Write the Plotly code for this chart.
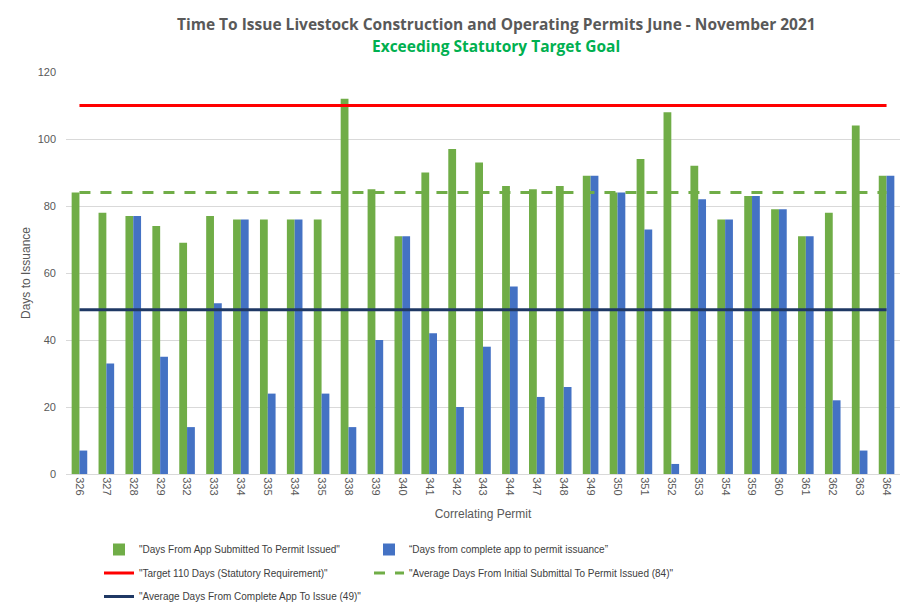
import plotly.graph_objects as go

permits = ["326", "327", "328", "329", "332", "333", "334", "335", "334", "335",
           "338", "339", "340", "341", "342", "343", "344", "347", "348", "349",
           "350", "351", "352", "353", "354", "359", "360", "361", "362", "363", "364"]
days_submitted = [84, 78, 77, 74, 69, 77, 76, 76, 76, 76,
                  112, 85, 71, 90, 97, 93, 86, 85, 86, 89,
                  84, 94, 108, 92, 76, 83, 79, 71, 78, 104, 89]
days_complete = [7, 33, 77, 35, 14, 51, 76, 24, 76, 24,
                 14, 40, 71, 42, 20, 38, 56, 23, 26, 89,
                 84, 73, 3, 82, 76, 83, 79, 71, 22, 7, 89]
target_days = 110
avg_submitted = 84
avg_complete = 49
y_ticks = [0, 20, 40, 60, 80, 100, 120]

idx = list(range(len(permits)))
FONT = "Liberation Sans, Arial, sans-serif"
GRAY = "#595959"

fig = go.Figure()
fig.add_trace(go.Bar(x=idx, y=days_submitted, marker_color="#70AD47", marker_line_width=0,
                     name='"Days From App Submitted To Permit Issued"', legend="legend",
                     legendgroup="a"))
fig.add_trace(go.Bar(x=idx, y=days_complete, marker_color="#4472C4", marker_line_width=0,
                     name='“Days from complete app to permit issuance”', legend="legend2",
                     legendgroup="b"))
fig.add_trace(go.Scatter(x=idx, y=[target_days] * len(idx), mode="lines",
                         line=dict(color="#FF0000", width=3),
                         name='"Target 110 Days (Statutory Requirement)"', legend="legend",
                         legendgroup="c"))
fig.add_trace(go.Scatter(x=idx, y=[avg_submitted] * len(idx), mode="lines",
                         line=dict(color="#70AD47", width=3, dash="11px,10px"),
                         name='"Average Days From Initial Submittal To Permit Issued (84)"',
                         legend="legend2", legendgroup="d"))
fig.add_trace(go.Scatter(x=idx, y=[avg_complete] * len(idx), mode="lines",
                         line=dict(color="#1F3864", width=3),
                         name='"Average Days From Complete App To Issue (49)"', legend="legend",
                         legendgroup="e"))

# page body has an 8px margin; figure sized to fit the 914x611 window
OFF = 8
W, H = 914 - OFF, 611 - OFF
# plot area in window pixels
X0, X1, Y0, Y1 = 66, 900, 72, 474
L, R, T, B = X0 - OFF, W - (X1 - OFF), Y0 - OFF, H - (Y1 - OFF)
pw = W - L - R
ph = H - T - B


def px(x):
    return (x - OFF - L) / pw


def py(y):
    return 1 + (T - (y - OFF)) / ph


fig.update_layout(
    width=W, height=H,
    margin=dict(l=L, r=R, t=T, b=B, autoexpand=False),
    paper_bgcolor="white", plot_bgcolor="white",
    barmode="group", bargap=0.42, bargroupgap=0,
    font=dict(family=FONT, color=GRAY, size=11),
    showlegend=True,
    legend=dict(x=px(99), y=py(535), xanchor="left", yanchor="top", orientation="v",
                font=dict(size=10, color="#404040", family=FONT), tracegroupgap=4.5,
                itemwidth=30, bgcolor="rgba(0,0,0,0)"),
    legend2=dict(x=px(369), y=py(535), xanchor="left", yanchor="top", orientation="v",
                 font=dict(size=10, color="#404040", family=FONT), tracegroupgap=4.5,
                 itemwidth=30, bgcolor="rgba(0,0,0,0)"),
    annotations=[
        dict(text="<b>Time To Issue Livestock Construction and Operating Permits June - November 2021</b>",
             x=px(496), y=py(24), xref="paper", yref="paper", xanchor="center", yanchor="middle",
             showarrow=False,
             font=dict(size=15.5, color=GRAY, family="Open Sans, Liberation Sans, sans-serif")),
        dict(text="<b>Exceeding Statutory Target Goal</b>",
             x=px(496), y=py(46), xref="paper", yref="paper", xanchor="center", yanchor="middle",
             showarrow=False,
             font=dict(size=15.5, color="#00B050", family="Open Sans, Liberation Sans, sans-serif")),
    ],
)

fig.update_xaxes(tickmode="array", tickvals=idx, ticktext=permits, tickangle=90,
                 range=[-0.5, len(idx) - 0.5], showgrid=False,
                 showline=True, linecolor="#D9D9D9", linewidth=1, ticks="",
                 tickfont=dict(size=11, color=GRAY),
                 title=dict(text="Correlating Permit", font=dict(size=12, color=GRAY), standoff=15))
fig.update_yaxes(range=[0, 120], tickvals=y_ticks, showgrid=True, gridcolor="#D9D9D9",
                 gridwidth=1, zeroline=False, ticks="", tickfont=dict(size=11, color=GRAY),
                 ticklabelstandoff=9,
                 title=dict(text="Days to Issuance", font=dict(size=12, color=GRAY), standoff=4))

fig.write_html("out.html", config={"responsive": False})
